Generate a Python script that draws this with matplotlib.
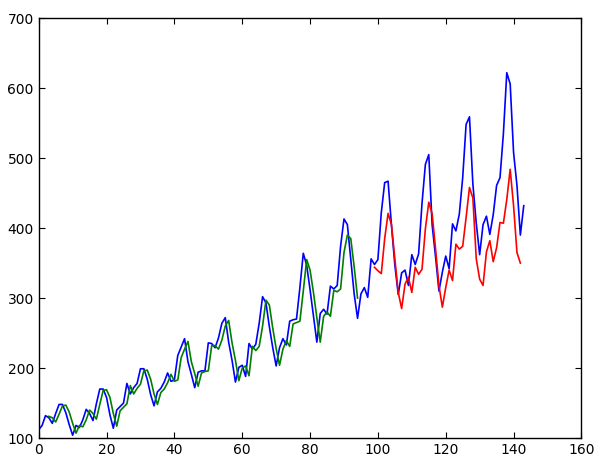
import numpy as np
import matplotlib
matplotlib.use("Agg")
import matplotlib.pyplot as plt

# monthly airline passengers (original series, blue)
passengers = [112, 118, 132, 129, 121, 135, 148, 148, 136, 119, 104, 118,
              115, 126, 141, 135, 125, 149, 170, 170, 158, 133, 114, 140,
              145, 150, 178, 163, 172, 178, 199, 199, 184, 162, 146, 166,
              171, 180, 193, 181, 183, 218, 230, 242, 209, 191, 172, 194,
              196, 196, 236, 235, 229, 243, 264, 272, 237, 211, 180, 201,
              204, 188, 235, 227, 234, 264, 302, 293, 259, 229, 203, 229,
              242, 233, 267, 269, 270, 315, 364, 347, 312, 274, 237, 278,
              284, 277, 317, 313, 318, 374, 413, 405, 355, 306, 271, 306,
              315, 301, 356, 348, 355, 422, 465, 467, 404, 347, 305, 336,
              340, 318, 362, 348, 363, 435, 491, 505, 404, 359, 310, 337,
              360, 342, 406, 396, 420, 472, 548, 559, 463, 407, 362, 405,
              417, 391, 419, 461, 472, 535, 622, 606, 508, 461, 390, 432]

# train predictions (green), start at index 3
train_start = 3
train_pred = [131, 129, 123, 134, 146, 147, 137, 121, 107, 118, 116, 126,
              140, 135, 127, 148, 168, 169, 158, 135, 117, 139, 144, 149,
              175, 163, 171, 177, 196, 197, 184, 163, 148, 165, 170, 179,
              191, 181, 183, 215, 227, 238, 209, 192, 174, 193, 195, 196,
              232, 232, 227, 240, 260, 268, 236, 211, 182, 200, 203, 189,
              231, 225, 231, 260, 297, 290, 257, 228, 204, 227, 239, 231,
              263, 265, 267, 310, 355, 340, 308, 272, 237, 274, 280, 274,
              311, 309, 313, 365, 390, 385, 345, 300]

# test predictions (red), start at index 99
test_start = 99
test_pred = [344, 339, 335, 385, 421, 405, 356, 308, 285, 320, 330, 308,
             344, 334, 341, 399, 437, 420, 370, 318, 287, 315, 340, 325,
             377, 370, 374, 415, 458, 443, 356, 327, 318, 366, 382, 352,
             372, 408, 407, 441, 484, 432, 365, 350]

x_all = np.arange(len(passengers))
x_train = np.arange(train_start, train_start + len(train_pred))
x_test = np.arange(test_start, test_start + len(test_pred))

fig = plt.figure(figsize=(6.05, 4.65), dpi=100)
ax = fig.add_axes([0.064, 0.058, 0.897, 0.903])

ax.plot(x_all, passengers, color='b', linewidth=1.2)
ax.plot(x_train, train_pred, color='g', linewidth=1.2)
ax.plot(x_test, test_pred, color='r', linewidth=1.2)

ax.set_xlim(0, 160)
ax.set_ylim(100, 700)
ax.set_xticks(range(0, 161, 20))
ax.set_yticks(range(100, 701, 100))
ax.tick_params(direction='in', top=True, right=True, length=4, labelsize=10)
for s in ax.spines.values():
    s.set_linewidth(1.0)

fig.savefig("out.png", dpi=100)
